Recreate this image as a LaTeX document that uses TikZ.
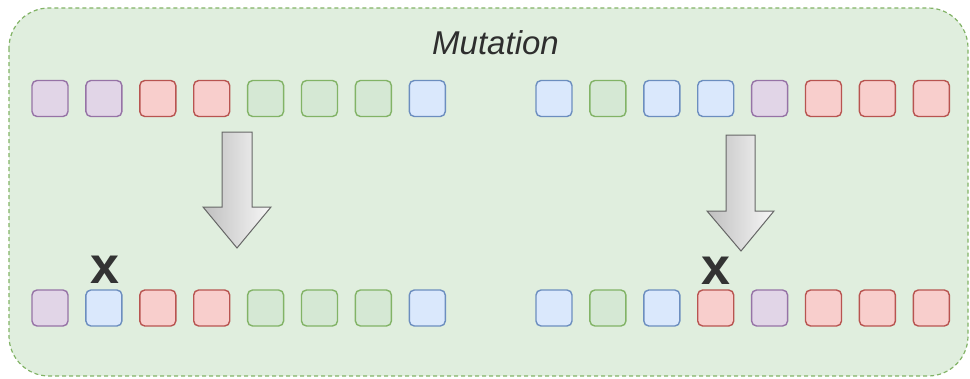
\documentclass[tikz,border=0pt]{standalone}
\usepackage{fontspec}
\setmainfont{Liberation Sans}
\definecolor{bgfill}{HTML}{E0EEDE}
\definecolor{bgline}{HTML}{82B366}
\definecolor{pfill}{HTML}{E1D5E7}\definecolor{pline}{HTML}{9673A6}
\definecolor{rfill}{HTML}{F8CECC}\definecolor{rline}{HTML}{B85450}
\definecolor{gfill}{HTML}{D5E8D4}\definecolor{gline}{HTML}{82B366}
\definecolor{bfill}{HTML}{DAE8FC}\definecolor{bline}{HTML}{6C8EBF}
\definecolor{arrline}{HTML}{666666}
\definecolor{xcol}{HTML}{333333}
\tikzset{
  gene/.style={draw, line width=1.4pt, rounded corners=5pt, minimum width=36pt, minimum height=36pt, inner sep=0pt, outer sep=0pt},
  P/.style={gene, fill=pfill, draw=pline},
  R/.style={gene, fill=rfill, draw=rline},
  G/.style={gene, fill=gfill, draw=gline},
  B/.style={gene, fill=bfill, draw=bline},
  bigarrow/.style={draw=arrline, line width=1pt, left color=gray!50, right color=gray!6, line join=miter},
  xmark/.style={font=\fontsize{52}{56}\selectfont\bfseries, text=xcol, anchor=base, inner sep=0pt},
}
\begin{document}
\begin{tikzpicture}[x=1pt,y=-1pt]
\useasboundingbox (0,0) rectangle (970,378);
\draw[fill=bgfill, draw=bgline, line width=1.2pt, dash pattern=on 4pt off 3pt, rounded corners=40pt] (9,8) rectangle (968,376);
\node[anchor=base, inner sep=0pt, font=\fontsize{33}{40}\selectfont\itshape, text=xcol!90!black] (title) at (495.5,54.5) {Mutation};
% top left row
\foreach \c [count=\i from 0] in {P,P,R,R,G,G,G,B} {
  \node[\c] (tl\i) at ({50+53.9*\i},98.5) {};
}
% top right row
\foreach \c [count=\i from 0] in {B,G,B,B,P,R,R,R} {
  \node[\c] (tr\i) at ({554+53.9*\i},98.5) {};
}
% bottom left row
\foreach \c [count=\i from 0] in {P,B,R,R,G,G,G,B} {
  \node[\c] (bl\i) at ({50+53.9*\i},308) {};
}
% bottom right row
\foreach \c [count=\i from 0] in {B,G,B,R,P,R,R,R} {
  \node[\c] (br\i) at ({554+53.9*\i},308) {};
}
% block arrows
\draw[bigarrow] (222,132) -- (252,132) -- (252,207) -- (271,207) -- (237,248) -- (203,207) -- (222,207) -- cycle;
\draw[bigarrow] (726,135) -- (755,135) -- (755,211) -- (774,211) -- (741,251) -- (707,211) -- (726,211) -- cycle;
% mutation marks
\node[xmark] (x1) at (105,283.5) {x};
\node[xmark] (x2) at (715.5,284) {x};
\end{tikzpicture}
\end{document}
